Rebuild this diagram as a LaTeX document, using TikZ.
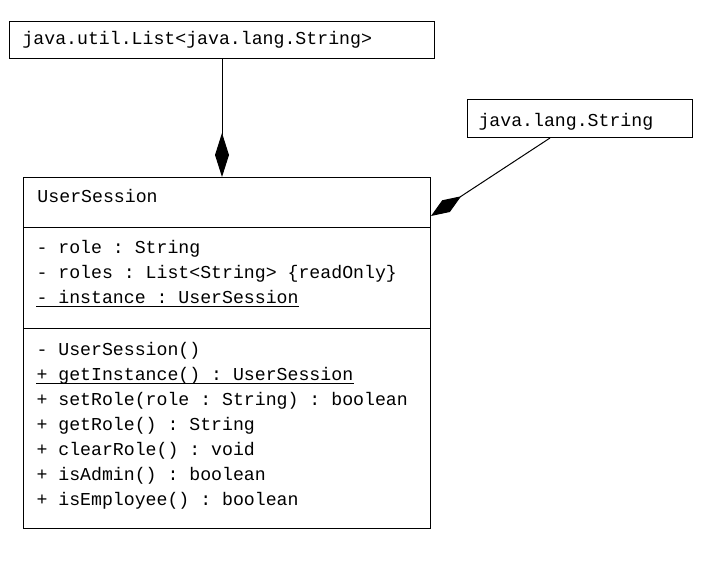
\documentclass[tikz,border=0pt]{standalone}
\usepackage{fontspec}
\setmonofont{Liberation Mono}
\usetikzlibrary{arrows.meta}
\begin{document}
\begin{tikzpicture}[x=1pt,y=-1pt,line width=1pt,
  box/.style={draw,rectangle,inner sep=0pt,anchor=north west},
  txt/.style={anchor=base west,inner sep=0pt,font=\ttfamily\fontsize{18.2}{20}\selectfont},
  comp/.style={-{Diamond[length=#1,width=14pt,fill=black]}},
  comp/.default=44pt]
\useasboundingbox (0,0) rectangle (705,562);
% boxes
\node[box,minimum width=425pt,minimum height=37pt] (list) at (9,21) {};
\node[box,minimum width=225pt,minimum height=38pt] (str) at (467,99) {};
\node[box,minimum width=407pt,minimum height=351pt] (us) at (23,177) {};
\draw (us.north west |- 0,227) -- (us.north east |- 0,227);
\draw (us.north west |- 0,328) -- (us.north east |- 0,328);
% texts
\node[txt] (tlist) at (22,45) {java.util.List<java.lang.String>};
\node[txt] (tstr) at (478,126) {java.lang.String};
\node[txt] (title) at (37,202) {UserSession};
\node[txt] (a1) at (36,253) {- role : String};
\node[txt] (a2) at (36,278) {- roles : List<String> \{readOnly\}};
\node[txt] (a3) at (36,303) {- instance : UserSession};
\draw ([yshift=-3pt]a3.base west) -- ([yshift=-3pt]a3.base east);
\node[txt] (m1) at (36,355) {- UserSession()};
\node[txt] (m2) at (36,380) {+ getInstance() : UserSession};
\draw ([yshift=-3pt]m2.base west) -- ([yshift=-3pt]m2.base east);
\node[txt] (m3) at (36,405) {+ setRole(role : String) : boolean};
\node[txt] (m4) at (36,430) {+ getRole() : String};
\node[txt] (m5) at (36,455) {+ clearRole() : void};
\node[txt] (m6) at (36,480) {+ isAdmin() : boolean};
\node[txt] (m7) at (36,505) {+ isEmployee() : boolean};
% connectors
\coordinate (c1) at (222,58);
\draw[comp] (c1) -- (c1 |- us.north);
\coordinate (c2) at ([xshift=83pt]str.south west);
\coordinate (c3) at ([yshift=-39pt]us.north east);
\draw[comp=36pt] (c2) -- (c3);
\end{tikzpicture}
\end{document}
